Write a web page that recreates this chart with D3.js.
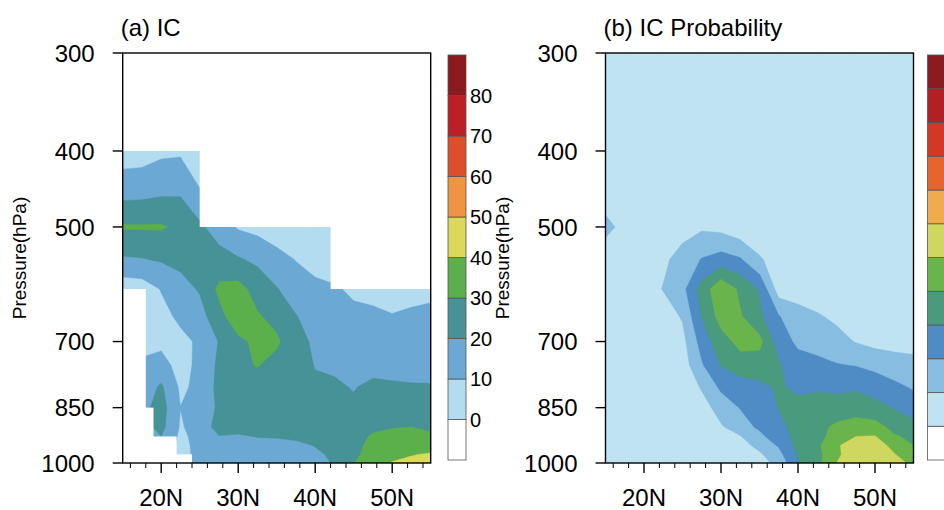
<!DOCTYPE html>
<html>
<head>
<meta charset="utf-8">
<script src="https://cdn.jsdelivr.net/npm/d3@7"></script>
<style>
  body { margin: 0; background: #fff; }
  text { font-family: "Liberation Sans", Arial, Helvetica, sans-serif; fill: #000; }
</style>
</head>
<body>
<svg id="chart" width="944" height="510"></svg>
<script>
// grid: latitude columns, pressure rows (top to bottom)
const lats = [15, 17.5, 20, 22.5, 25, 27.5, 30, 32.5, 35, 37.5, 40, 42.5, 45, 47.5, 50, 52.5, 55];
const levels = [300, 350, 400, 450, 500, 550, 600, 650, 700, 750, 800, 850, 900, 925, 950, 975, 1000];

// (a) IC, null = no data
const icGrid = [
  [null, null, null, null, null, null, null, null, null, null, null, null, null, null, null, null, null],
  [null, null, null, null, null, null, null, null, null, null, null, null, null, null, null, null, null],
  [5, 5.5, 8, 8.5, 4, null, null, null, null, null, null, null, null, null, null, null, null],
  [16, 16.5, 18, 18.5, 10.5, null, null, null, null, null, null, null, null, null, null, null, null],
  [31, 31, 31, 28, 22, 15, 9, 7, 5, 4, 3, 2, null, null, null, null, null],
  [18.8, 19.5, 21, 23, 23, 24, 21, 18, 13, 9.7, 7, 5, null, null, null, null, null],
  [4, 5, 10.5, 16, 21, 32, 33.5, 26, 20.6, 14, 12, 11, 8.5, 6, 5, 6, 7],
  [null, 5, 7, 12, 16, 27, 36, 31, 27, 20.5, 15, 13, 12, 12.5, 10.6, 12, 13],
  [null, 6, 8, 7.5, 11.5, 20.5, 28, 32, 31.5, 24, 18, 15, 14, 14, 14, 14.5, 15],
  [null, 12, 13, 7, 12, 22, 28, 30.5, 27, 25, 19.5, 18.5, 16, 17, 17, 17.5, 18],
  [null, 14, 21.5, 8.5, 12, 23, 26, 26, 25, 24, 21.8, 21.3, 19.5, 22, 21.2, 20.6, 20.4],
  [null, 17, 24, 10.1, 12, 22, 25, 25, 25, 24, 24, 24, 21.5, 24, 24, 24, 24],
  [null, 16, 23, 9, 14, 24, 24.5, 24, 24, 24, 24, 25, 25, 28, 29.5, 30, 28.5],
  [null, 14, 20, 8, 13, 19.5, 18.5, 20.5, 21, 22.5, 23, 25, 26, 31.3, 33, 33, 31.5],
  [null, 10, 18, 7, 13, 15, 14, 16, 16, 17, 20.5, 24, 27, 33, 35, 36, 35],
  [null, 9, 15, 7, 12.5, 14, 13, 13.5, 14, 15, 18, 22, 28, 34, 37.5, 39.5, 41],
  [null, 8, 14, 8, 12, 13, 12, 9.5, 10.5, 14, 16, 21, 29.8, 35, 40.5, 42, 43]
];

// (b) IC Probability
const probGrid = [
  [3, 3, 3, 3, 3, 3, 3, 3, 3, 3, 3, 3, 3, 3, 3, 3, 3],
  [3, 3, 3, 3, 3, 3, 3, 3, 3, 3, 3, 3, 3, 3, 3, 3, 3],
  [3, 3, 3, 3, 3, 3, 3, 3, 3, 3, 3, 3, 3, 3, 3, 3, 3],
  [6, 4, 3, 3, 3, 3, 3, 3, 3, 3, 3, 3, 3, 3, 3, 3, 3],
  [12, 8, 4, 4, 6, 8.5, 7, 3, 3, 3, 3, 3, 3, 3, 3, 3, 3],
  [6, 5, 5, 8, 14, 20.5, 24, 21, 11, 6, 4, 3, 3, 3, 3, 3, 3],
  [4, 4, 5, 10.5, 17, 34, 48, 38, 29, 5, 5, 4, 4, 3, 3, 3, 3],
  [3, 3, 4, 5, 11, 30.5, 44, 41, 32, 20.5, 14, 11, 8, 6, 5, 4, 4],
  [3, 3, 3, 4, 7, 24, 36, 43, 43, 25, 18, 17, 13.5, 9.5, 7, 6, 5],
  [3, 3, 3, 3, 5, 19, 30.5, 36, 35, 31, 24, 22, 20.5, 19.5, 17, 15, 14],
  [3, 3, 3, 3, 3, 11, 22, 25, 28, 31, 28, 29, 28, 28.5, 26, 22, 19],
  [3, 3, 3, 3, 3, 6, 14, 20.5, 23, 30.5, 33, 33, 34, 35, 33, 29.5, 25],
  [3, 3, 3, 3, 3, 3, 9, 15, 22, 27, 34, 37, 42, 45, 44, 37, 33],
  [3, 3, 3, 3, 3, 3, 5, 9.5, 17, 27, 32, 36, 45, 50, 50.5, 41, 38],
  [3, 3, 3, 3, 3, 3, 3, 6, 13, 21, 33, 38, 49, 54, 55, 47, 40],
  [3, 3, 3, 3, 3, 3, 3, 4, 8.5, 17, 31, 37, 48, 56, 57, 50.5, 44],
  [3, 3, 3, 3, 3, 3, 3, 3, 6, 13, 29.5, 37, 50, 57, 58, 55, 47]
];

// missing-data boxes in (a): [lat0, lat1, p0, p1]
const icMissing = [
  [15, 55, 300, 400], [25, 55, 400, 500], [42, 55, 500, 600],
  [15, 18, 600, 1000], [15, 19, 850, 1000], [15, 22, 925, 1000], [15, 24, 975, 1000]
];

const icThresholds = [0, 10, 20, 30, 40, 50, 60, 70, 80];
const probThresholds = [0, 10, 20, 30, 40, 50, 60, 70, 80, 90, 100];
const icBarLabels = ["0", "10", "20", "30", "40", "50", "60", "70", "80"];

const pressureTicks = [300, 400, 500, 700, 850, 1000];
const latMajor = [20, 30, 40, 50];
const latLabels = ["20N", "30N", "40N", "50N"];

const icColors = ["#b3dcf0", "#6ba8d4", "#479296", "#5bb04b", "#dcd85b", "#ee9442", "#dc4f2a", "#bc1f26", "#8b1a1f"];
const probColors = ["#c0e3f1", "#86bde0", "#4f8bc4", "#4a9b7d", "#69b44b", "#cfd75e", "#f0ab4d", "#e6642d", "#d33827", "#b21f25", "#8b1a20"];

const svg = d3.select("#chart");
const plotTop = 53, plotBottom = 463, plotW = 308;

function drawPanel(cfg) {
  const x = d3.scaleLinear().domain([15, 55]).range([cfg.left, cfg.left + plotW]);
  const y = d3.scaleLog().domain([300, 1000]).range([plotTop, plotBottom]);
  const g = svg.append("g");

  // contour fills; missing cells count as below the lowest level
  const nx = lats.length, ny = levels.length;
  const values = cfg.grid.flat().map(v => v == null ? -1 : v);
  const latAt = d3.scaleLinear().domain(d3.range(nx)).range(lats).clamp(true);
  const logAt = d3.scaleLinear().domain(d3.range(ny)).range(levels.map(Math.log)).clamp(true);
  const proj = d3.geoTransform({
    point(u, v) { this.stream.point(x(latAt(u - 0.5)), y(Math.exp(logAt(v - 0.5)))); }
  });
  const path = d3.geoPath(proj);
  const bands = d3.contours().size([nx, ny]).thresholds(cfg.thresholds)(values);

  svg.append("clipPath").attr("id", cfg.id + "-clip")
    .append("rect").attr("x", cfg.left).attr("y", plotTop).attr("width", plotW).attr("height", plotBottom - plotTop);

  const fills = g.append("g").attr("clip-path", `url(#${cfg.id}-clip)`);
  fills.selectAll("path").data(bands).join("path")
    .attr("d", path)
    .attr("fill", (d, i) => cfg.colors[i])
    .attr("stroke", (d, i) => cfg.colors[i])
    .attr("stroke-width", 0.4);

  if (cfg.missing) {
    fills.selectAll("rect.miss").data(cfg.missing).join("rect")
      .attr("class", "miss")
      .attr("x", d => x(d[0])).attr("width", d => x(d[1]) - x(d[0]))
      .attr("y", d => y(d[2])).attr("height", d => y(d[3]) - y(d[2]))
      .attr("fill", "#fff");
  }

  // frame
  g.append("rect").attr("x", cfg.left).attr("y", plotTop).attr("width", plotW).attr("height", plotBottom - plotTop)
    .attr("fill", "none").attr("stroke", "#000").attr("stroke-width", 1.4);

  // y ticks
  g.selectAll("line.yt").data(pressureTicks).join("line")
    .attr("x1", cfg.left - 10).attr("x2", cfg.left)
    .attr("y1", d => y(d)).attr("y2", d => y(d))
    .attr("stroke", "#000").attr("stroke-width", 1.4);
  g.selectAll("text.yl").data(pressureTicks).join("text")
    .attr("x", cfg.left - 28).attr("y", d => y(d)).attr("dy", "0.36em")
    .attr("text-anchor", "end").attr("font-size", 24)
    .text(d => d);

  // x ticks
  const minor = d3.range(16, 55, 2).filter(d => d % 10 !== 0);
  g.selectAll("line.xm").data(minor).join("line")
    .attr("x1", d => x(d)).attr("x2", d => x(d))
    .attr("y1", plotBottom).attr("y2", plotBottom + 5)
    .attr("stroke", "#000").attr("stroke-width", 1);
  g.selectAll("line.xt").data(latMajor).join("line")
    .attr("x1", d => x(d)).attr("x2", d => x(d))
    .attr("y1", plotBottom).attr("y2", plotBottom + 10)
    .attr("stroke", "#000").attr("stroke-width", 1.4);
  g.selectAll("text.xl").data(latMajor).join("text")
    .attr("x", d => x(d)).attr("y", 506)
    .attr("text-anchor", "middle").attr("font-size", 24)
    .text((d, i) => latLabels[i]);

  // axis title and panel title
  g.append("text")
    .attr("transform", `translate(${cfg.left - 97},${(plotTop + plotBottom) / 2}) rotate(-90)`)
    .attr("text-anchor", "middle").attr("font-size", 19)
    .text("Pressure(hPa)");
  g.append("text").attr("x", cfg.left - 2).attr("y", 36)
    .attr("font-size", 24).text(cfg.title);

  // colorbar
  const n = cfg.thresholds.length + 1;
  const barTop = 55, barBottom = 460;
  const bh = (barBottom - barTop) / n;
  const barColors = ["#fff"].concat(cfg.colors);
  const cb = g.append("g");
  cb.selectAll("rect").data(barColors).join("rect")
    .attr("x", cfg.barX).attr("width", 18)
    .attr("y", (d, i) => barBottom - (i + 1) * bh).attr("height", bh)
    .attr("fill", d => d).attr("stroke", "#555").attr("stroke-width", 0.8);
  if (cfg.barLabels) {
    cb.selectAll("text").data(cfg.barLabels).join("text")
      .attr("x", cfg.barX + 22).attr("y", (d, i) => barBottom - (i + 1) * bh).attr("dy", "0.36em")
      .attr("font-size", 20).text(d => d);
  }
}

drawPanel({ id: "ic", left: 122.7, grid: icGrid, thresholds: icThresholds, colors: icColors,
  missing: icMissing, title: "(a) IC", barX: 448, barLabels: icBarLabels });
drawPanel({ id: "prob", left: 605.5, grid: probGrid, thresholds: probThresholds, colors: probColors,
  title: "(b) IC Probability", barX: 927.5 });
</script>
</body>
</html>
